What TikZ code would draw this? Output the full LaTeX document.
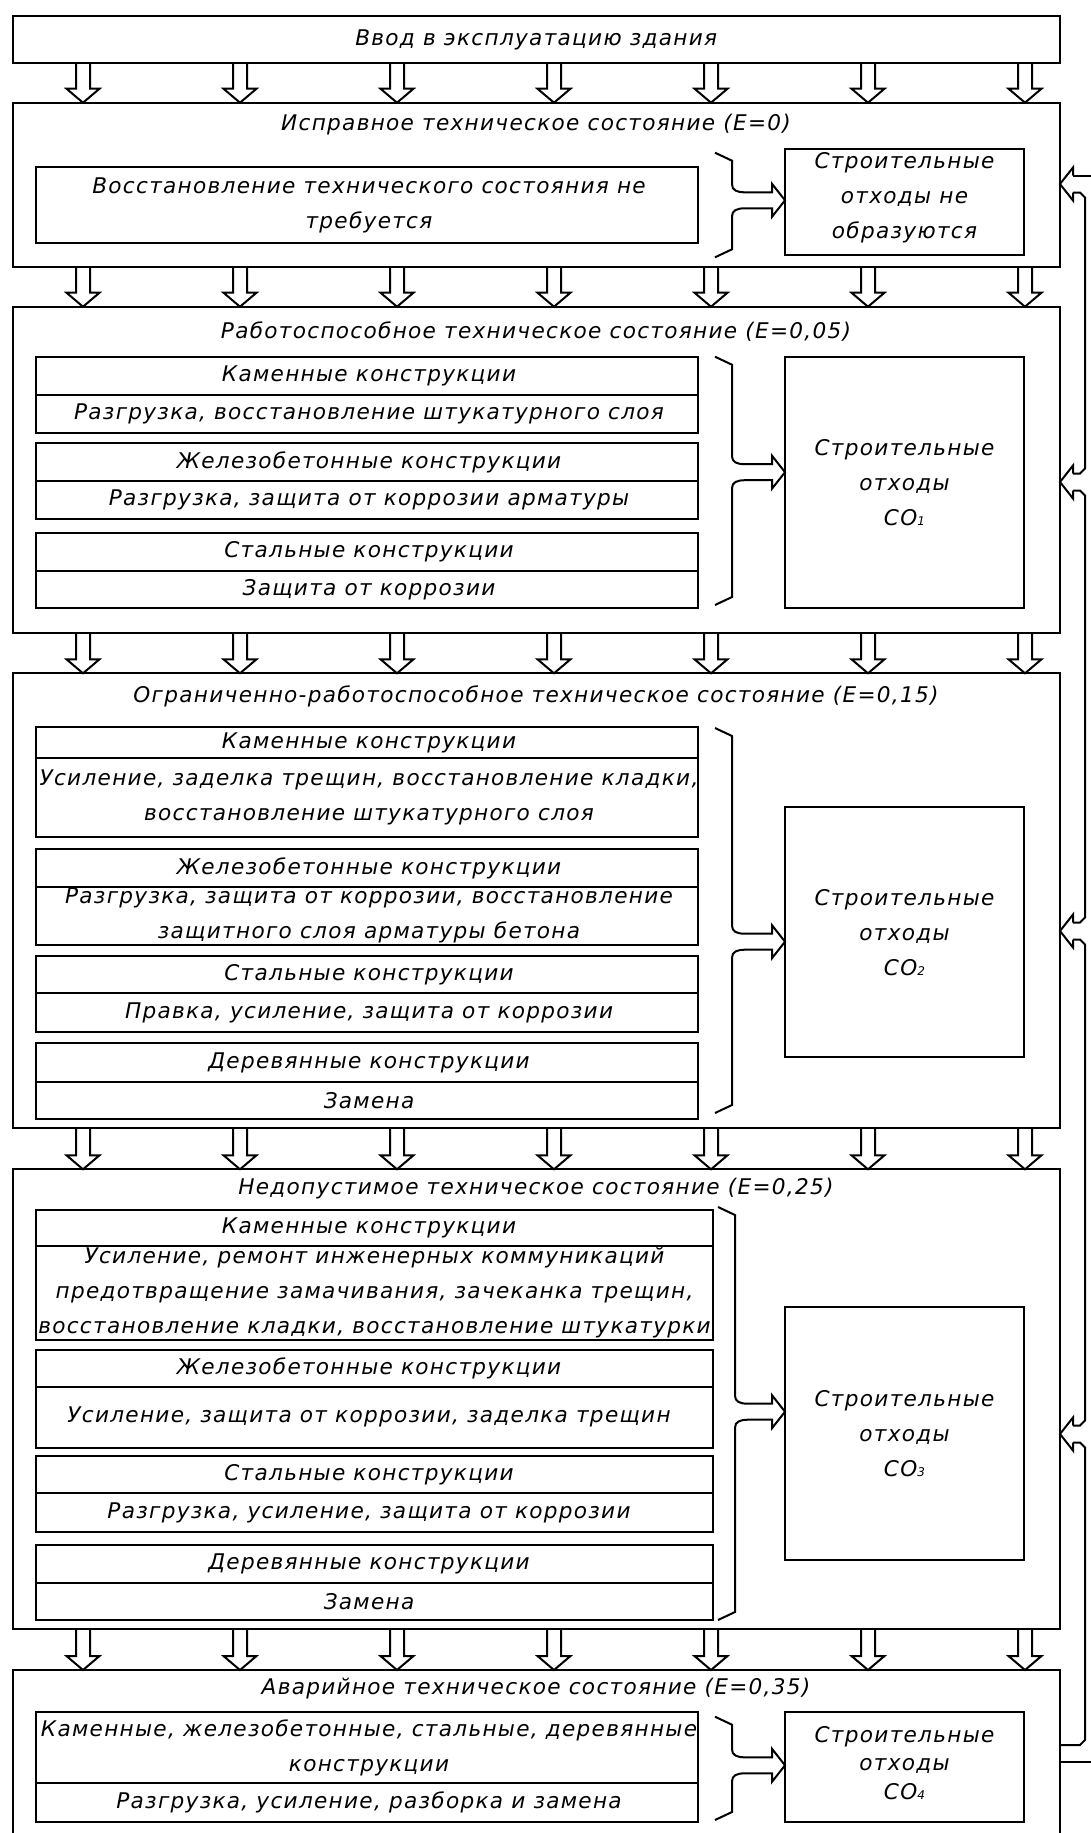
\documentclass[tikz,border=0pt]{standalone}
\usepackage{fontspec}
\setmainfont{DejaVu Sans}[LetterSpace=6]
\usetikzlibrary{calc}

\tikzset{
  lines/.style={draw, line width=1pt, line join=miter},
  boxline/.style={draw, line width=1pt, inner sep=0pt, outer sep=0pt},
  txt/.style={font=\fontsize{10.8}{17.5}\selectfont\itshape, align=center, inner sep=0pt},
}

% framed rectangle given by its corners (x1,y1)-(x2,y2), in pixels, y downwards
\newcommand\mkbox[5]{%
  \node[boxline, minimum width={(#4-#2)*0.5pt}, minimum height={(#5-#3)*0.5pt}]
    (#1) at ({(#2+#4)/2},{(#3+#5)/2}) {};}

% table row with centred text
\newcommand\mkcell[6]{%
  \mkbox{#1}{#2}{#3}{#4}{#5}%
  \node[txt] (#1-t) at (369,0 |- #1.center) {#6};}

% curly bracket with a hollow arrow into the waste box (#5 = horizontal shift)
\newcommand\wastebrace[5]{%
  \begin{scope}[xshift=#5*0.5pt]
  \draw[lines] (715,#1) -- (732,#1+8) -- (732,#2-16)
     .. controls (732,#2-10) and (737,#2-8) .. (745,#2-8) -- (772-#5,#2-8)
     -- (772-#5,#2-16.5) -- (#4.west |- 0,#2) -- (772-#5,#2+16.5) -- (772-#5,#2+8)
     -- (745,#2+8) .. controls (737,#2+8) and (732,#2+10) .. (732,#2+16)
     -- (732,#3-8) -- (715,#3);
  \end{scope}}

% row of seven hollow arrows between two stacked frames
\newcommand\downrow[2]{%
  \foreach \ax in {83,240,397,554,711,868,1025}{%
    \coordinate (s) at (#1.south -| \ax,0);
    \coordinate (e) at (#2.north -| \ax,0);
    \draw[lines] ($(s)+(-7,0)$) -- ($(e)+(-7,-14)$) -- ($(e)+(-16.5,-14)$) -- (e)
      -- ($(e)+(16.5,-14)$) -- ($(e)+(7,-14)$) -- ($(s)+(7,0)$);
  }}

% hollow arrow head of the return channel entering a frame from the right
\newcommand\backhead[2]{%
  \draw[lines] (1073,#2-8.5) -- (1073,#2-16.5) -- (#1.east |- 0,#2)
     -- (1073,#2+16.5) -- (1073,#2+8.5);}

\begin{document}
\begin{tikzpicture}[x=0.5pt,y=-0.5pt]
\useasboundingbox (0,0) rectangle (1091,1833);
\fill[white] (0,0) rectangle (1091,1833);
\clip (0,0) rectangle (1091,1833);

% commissioning
\mkbox{T}{12.5}{16}{1060}{63}
\node[txt] (T-t) at (T.center) {Ввод в эксплуатацию здания};

% state E=0
\mkbox{B1}{12.5}{102.7}{1060}{266.7}
\node[txt] (B1-t) at (536,125) {Исправное техническое состояние (E=0)};
\mkcell{c11}{36}{166.7}{698}{243.3}{Восстановление технического состояния не\\требуется}
\mkbox{R1}{785}{149}{1024}{255}
\node[txt] (R1-t) at (904.5,198) {Строительные\\отходы не\\образуются};
\wastebrace{152.7}{200.3}{257.3}{R1}{0}

% state E=0,05
\mkbox{B2}{12.5}{306.7}{1060}{633}
\node[txt] (B2-t) at (536,331.7) {Работоспособное техническое состояние (E=0,05)};
\mkcell{c21}{36}{357.3}{698}{395}{Каменные конструкции}
\mkcell{c22}{36}{395}{698}{433.3}{Разгрузка, восстановление штукатурного слоя}
\mkcell{c23}{36}{443.3}{698}{481}{Железобетонные конструкции}
\mkcell{c24}{36}{481}{698}{519.3}{Разгрузка, защита от коррозии арматуры}
\mkcell{c25}{36}{533.3}{698}{571}{Стальные конструкции}
\mkcell{c26}{36}{571}{698}{607.7}{Защита от коррозии}
\mkbox{R2}{785}{357.3}{1024}{607.7}
\node[txt] (R2-t) at (904.5,483) {Строительные\\отходы\\СО{\fontsize{6}{6}\selectfont 1}};
\wastebrace{356.7}{472.2}{605}{R2}{0}

% state E=0,15
\mkbox{B3}{12.5}{673.3}{1060}{1128.3}
\node[txt] (B3-t) at (536,696.7) {Ограниченно-работоспособное техническое состояние (E=0,15)};
\mkcell{c31}{36}{727.3}{698}{758.3}{Каменные конструкции}
\mkcell{c32}{36}{758.3}{698}{837.3}{Усиление, заделка трещин, восстановление кладки,\\восстановление штукатурного слоя}
\mkcell{c33}{36}{849.3}{698}{886.7}{Железобетонные конструкции}
\mkcell{c34}{36}{886.7}{698}{945}{Разгрузка, защита от коррозии, восстановление\\защитного слоя арматуры бетона}
\mkcell{c35}{36}{955.7}{698}{993.3}{Стальные конструкции}
\mkcell{c36}{36}{993.3}{698}{1031.7}{Правка, усиление, защита от коррозии}
\mkcell{c37}{36}{1043.3}{698}{1081.7}{Деревянные конструкции}
\mkcell{c38}{36}{1081.7}{698}{1119}{Замена}
\mkbox{R3}{785}{807.3}{1024}{1057.3}
\node[txt] (R3-t) at (904.5,933) {Строительные\\отходы\\СО{\fontsize{6}{6}\selectfont 2}};
\wastebrace{728}{941.7}{1113}{R3}{0}

% state E=0,25
\mkbox{B4}{12.5}{1169.3}{1060}{1629.3}
\node[txt] (B4-t) at (536,1188.3) {Недопустимое техническое состояние (E=0,25)};
\mkcell{c41}{36}{1210}{713}{1245.7}{Каменные конструкции}
\mkbox{c42}{36}{1245.7}{713}{1340}
\node[txt] (c42-t) at (c42.center) {Усиление, ремонт инженерных коммуникаций\\предотвращение замачивания, зачеканка трещин,\\восстановление кладки, восстановление штукатурки};
\mkcell{c43}{36}{1350}{713}{1386.7}{Железобетонные конструкции}
\mkcell{c44}{36}{1386.7}{713}{1447.7}{Усиление, защита от коррозии, заделка трещин}
\mkcell{c45}{36}{1455.7}{713}{1493.3}{Стальные конструкции}
\mkcell{c46}{36}{1493.3}{713}{1531.7}{Разгрузка, усиление, защита от коррозии}
\mkcell{c47}{36}{1545}{713}{1583.3}{Деревянные конструкции}
\mkcell{c48}{36}{1583.3}{713}{1620}{Замена}
\mkbox{R4}{785}{1306.7}{1024}{1560}
\node[txt] (R4-t) at (904.5,1434) {Строительные\\отходы\\СО{\fontsize{6}{6}\selectfont 3}};
\wastebrace{1207}{1411.7}{1620}{R4}{3}

% state E=0,35
\mkbox{B5}{12.5}{1670}{1060}{1850}
\node[txt] (B5-t) at (536,1688.3) {Аварийное техническое состояние (E=0,35)};
\mkcell{c51}{36}{1712.3}{698}{1783.3}{Каменные, железобетонные, стальные, деревянные\\конструкции}
\mkcell{c52}{36}{1783.3}{698}{1821.7}{Разгрузка, усиление, разборка и замена}
\mkbox{R5}{785}{1711.7}{1024}{1821.7}
\node[txt, font=\fontsize{10.8}{14.25}\selectfont\itshape] (R5-t) at (904.5,1763)
  {Строительные\\отходы\\СО{\fontsize{6}{6}\selectfont 4}};
\wastebrace{1716.7}{1765.3}{1820}{R5}{0}

% transitions between states
\downrow{T}{B1}
\downrow{B1}{B2}
\downrow{B2}{B3}
\downrow{B3}{B4}
\downrow{B4}{B5}

% return channel on the right
\draw[lines] (B5.east |- 0,1761.7) -- (1101,1761.7) -- (1101,175.5) -- (1073,175.5);
\draw[lines] (1073,192.5) -- (1080,192.5) -- (1085,197.5) -- (1085,468.5) -- (1080,473.5) -- (1073,473.5);
\draw[lines] (1073,490.5) -- (1080,490.5) -- (1085,495.5) -- (1085,917.5) -- (1080,922.5) -- (1073,922.5);
\draw[lines] (1073,939.5) -- (1080,939.5) -- (1085,944.5) -- (1085,1420.5) -- (1080,1425.5) -- (1073,1425.5);
\draw[lines] (1073,1442.5) -- (1080,1442.5) -- (1085,1447.5) -- (1085,1740) -- (1080,1745) -- (B5.east |- 0,1745);
\backhead{B1}{184}
\backhead{B2}{482}
\backhead{B3}{931}
\backhead{B4}{1434}
\end{tikzpicture}
\end{document}
